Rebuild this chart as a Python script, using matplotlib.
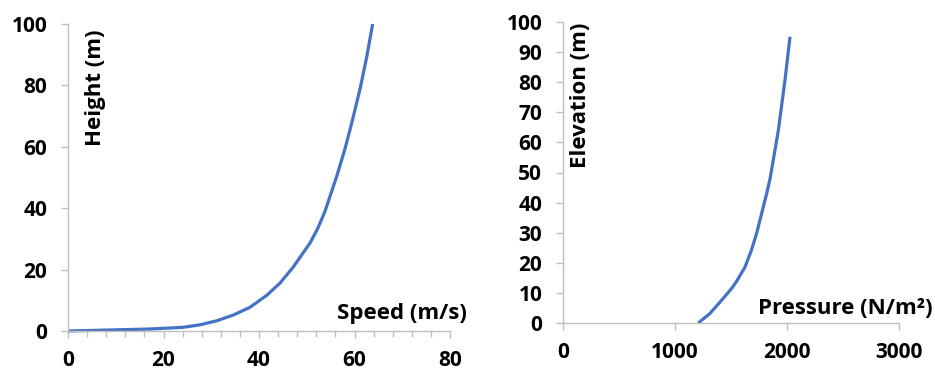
import matplotlib
matplotlib.use("Agg")
import matplotlib.pyplot as plt
from matplotlib.ticker import MultipleLocator

# Left panel: speed profile
speed = [0, 17.2, 24.1, 27.6, 31.1, 34.6, 38.1, 41.6, 44.4, 47.2, 50.7, 52.3,
         53.8, 56.3, 58.0, 59.4, 61.2, 62.6, 63.8]
height = [0, 0.65, 1.2, 2.0, 3.3, 5.2, 7.7, 11.6, 15.6, 20.9, 28.7, 33.4,
          38.9, 50.5, 59.3, 67.6, 79.1, 89.6, 100]

# Right panel: pressure profile
pressure = [1208, 1313, 1431, 1506, 1551, 1625, 1680, 1729, 1819, 1848, 1893,
            1923, 1982, 2027]
elevation = [0, 3.2, 8.2, 11.5, 13.9, 18.6, 23.9, 29.8, 43.1, 47.8, 57.5,
             64.1, 80.7, 95.1]

left_xticks = [0, 20, 40, 60, 80]
left_yticks = [0, 20, 40, 60, 80, 100]
right_xticks = [0, 1000, 2000, 3000]
right_yticks = list(range(0, 101, 10))

FONT = "Open Sans"
FS = 15
LFS = 16
LINE = "#4472C4"
AXC = "#BFBFBF"

W, H = 935, 372
fig = plt.figure(figsize=(W / 100, H / 100), dpi=100)

def frac(x0, x1, ytop, ybot):
    return [x0 / W, 1 - ybot / H, (x1 - x0) / W, (ybot - ytop) / H]

def style(ax):
    for s in ["top", "right"]:
        ax.spines[s].set_visible(False)
    for s in ["left", "bottom"]:
        ax.spines[s].set_color(AXC)
        ax.spines[s].set_linewidth(1.0)
    ax.tick_params(which="both", color=AXC, width=1.0, direction="out")
    ax.tick_params(which="major", length=5, labelsize=FS)
    ax.tick_params(which="minor", length=4)
    ax.tick_params(axis="y", pad=10)
    ax.tick_params(axis="x", pad=8.5)
    for lab in ax.get_xticklabels() + ax.get_yticklabels():
        lab.set_fontfamily(FONT)
        lab.set_fontweight("bold")

ax1 = fig.add_axes(frac(68, 450, 24, 331))
ax1.plot(speed, height, color=LINE, lw=2.3, clip_on=False,
         solid_joinstyle="round", solid_capstyle="butt")
ax1.set_xlim(0, 80)
ax1.set_ylim(0, 100)
ax1.set_xticks(left_xticks)
ax1.set_yticks(left_yticks)
ax1.xaxis.set_minor_locator(MultipleLocator(4))
style(ax1)
ax1.text(95 / W, 1 - 30 / H, "Height (m)", transform=fig.transFigure, rotation=90,
         ha="center", va="top", fontsize=LFS, fontweight="bold", fontfamily=FONT)
ax1.text(467 / W, 1 - 314 / H, "Speed (m/s)", transform=fig.transFigure,
         ha="right", va="center", fontsize=LFS, fontweight="bold", fontfamily=FONT)

ax2 = fig.add_axes(frac(563, 899, 22, 323))
ax2.plot(pressure, elevation, color=LINE, lw=2.3, clip_on=False,
         solid_joinstyle="round", solid_capstyle="butt")
ax2.set_xlim(0, 3000)
ax2.set_ylim(0, 100)
ax2.set_xticks(right_xticks)
ax2.set_yticks(right_yticks)
style(ax2)
ax2.text(580 / W, 1 - 23 / H, "Elevation (m)", transform=fig.transFigure, rotation=90,
         ha="center", va="top", fontsize=LFS, fontweight="bold", fontfamily=FONT)
ax2.text(933 / W, 1 - 309 / H, "Pressure (N/m²)", transform=fig.transFigure,
         ha="right", va="center", fontsize=LFS, fontweight="bold", fontfamily=FONT)

fig.savefig("out.png", dpi=100)
